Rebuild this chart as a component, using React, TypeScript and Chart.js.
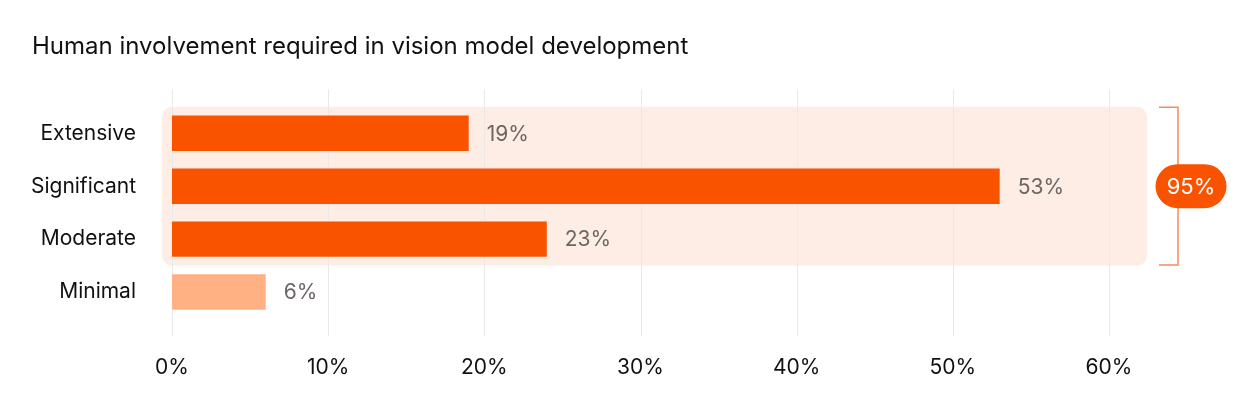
import React, { useEffect, useRef } from "react";
import { Chart, registerables } from "chart.js";

Chart.register(...registerables);

const titleText = "Human involvement required in vision model development";
const categories = ["Extensive", "Significant", "Moderate", "Minimal"];
const values = [19, 53, 24, 6];
const valueLabels = ["19%", "53%", "23%", "6%"];
const inGroup = [true, true, true, false];
const groupTotalLabel = "95%";
const xTickValues = [0, 10, 20, 30, 40, 50, 60];

const ORANGE = "#fa5300";
const PEACH = "#ffb183";
const HIGHLIGHT = "#fdede5";
const BRACKET = "#f58b5c";
const GRID = "#ebe9e8";
const FONT = "Inter, 'Noto Sans', sans-serif";

function roundRect(ctx: CanvasRenderingContext2D, x: number, y: number, w: number, h: number, r: number) {
  ctx.beginPath();
  ctx.moveTo(x + r, y);
  ctx.lineTo(x + w - r, y);
  ctx.arcTo(x + w, y, x + w, y + r, r);
  ctx.lineTo(x + w, y + h - r);
  ctx.arcTo(x + w, y + h, x + w - r, y + h, r);
  ctx.lineTo(x + r, y + h);
  ctx.arcTo(x, y + h, x, y + h - r, r);
  ctx.lineTo(x, y + r);
  ctx.arcTo(x, y, x + r, y, r);
  ctx.closePath();
}

function groupBounds(ys: any) {
  const band = ys.getPixelForValue(1) - ys.getPixelForValue(0);
  const first = inGroup.indexOf(true);
  const last = inGroup.lastIndexOf(true);
  return {
    top: ys.getPixelForValue(first) - band / 2,
    bottom: ys.getPixelForValue(last) + band / 2,
  };
}

const decorPlugin = {
  id: "decor",
  beforeDatasetsDraw(chart: any) {
    const { ctx, scales } = chart;
    const xs = scales.x;
    const ys = scales.y;
    const { top, bottom } = groupBounds(ys);
    const left = xs.left - 10;
    const right = xs.right + 38;
    ctx.save();
    ctx.fillStyle = HIGHLIGHT;
    roundRect(ctx, left, top, right - left, bottom - top, 10);
    ctx.fill();
    ctx.strokeStyle = GRID;
    ctx.lineWidth = 1;
    const gTop = ys.top - 17.5;
    const gBottom = ys.bottom + 17.5;
    xTickValues.forEach((v) => {
      const px = Math.round(xs.getPixelForValue(v)) + 0.5;
      ctx.beginPath();
      ctx.moveTo(px, gTop);
      ctx.lineTo(px, gBottom);
      ctx.stroke();
    });
    ctx.restore();
  },
  afterDatasetsDraw(chart: any) {
    const { ctx, scales } = chart;
    const xs = scales.x;
    const ys = scales.y;
    ctx.save();
    ctx.font = `21px ${FONT}`;
    ctx.fillStyle = "#6b6663";
    ctx.textAlign = "left";
    ctx.textBaseline = "middle";
    values.forEach((v, i) => {
      const px = xs.getPixelForValue(v) + 18;
      const py = ys.getPixelForValue(i);
      ctx.fillText(valueLabels[i], px, py + 1);
    });
    const { top, bottom } = groupBounds(ys);
    const bx0 = xs.right + 50;
    const bx1 = xs.right + 69;
    ctx.strokeStyle = BRACKET;
    ctx.lineWidth = 1.5;
    ctx.beginPath();
    ctx.moveTo(bx0, top + 0.5);
    ctx.lineTo(bx1, top + 0.5);
    ctx.lineTo(bx1, bottom - 0.5);
    ctx.lineTo(bx0, bottom - 0.5);
    ctx.stroke();
    const cy = (top + bottom) / 2;
    const cx = xs.right + 82;
    const w = 71;
    const h = 44;
    ctx.fillStyle = ORANGE;
    roundRect(ctx, cx - w / 2, cy - h / 2, w, h, h / 2);
    ctx.fill();
    ctx.fillStyle = "#ffffff";
    ctx.font = `22px ${FONT}`;
    ctx.textAlign = "center";
    ctx.fillText(groupTotalLabel, cx, cy + 1);
    ctx.restore();
  },
};

export default function App() {
  const canvasRef = useRef<HTMLCanvasElement | null>(null);

  useEffect(() => {
    document.body.style.margin = "0";
    const canvas = canvasRef.current;
    if (!canvas) return;
    const chart = new Chart(canvas, {
      type: "bar",
      data: {
        labels: categories,
        datasets: [
          {
            data: values,
            backgroundColor: inGroup.map((g) => (g ? ORANGE : PEACH)),
            borderWidth: 0,
            categoryPercentage: 0.67,
            barPercentage: 1,
          },
        ],
      },
      options: {
        indexAxis: "y",
        responsive: false,
        animation: false,
        layout: { padding: { left: 32, right: 147, top: 0, bottom: 31 } },
        plugins: {
          legend: { display: false },
          tooltip: { enabled: false },
          title: {
            display: true,
            text: titleText,
            align: "start",
            color: "#111111",
            font: { family: FONT, size: 24, weight: "normal" },
            padding: { top: 32, bottom: 46 },
          },
        },
        scales: {
          x: {
            min: 0,
            max: 60,
            afterBuildTicks: (scale: any) => {
              scale.ticks = xTickValues.map((v) => ({ value: v }));
            },
            afterFit: (scale: any) => {
              scale.height = 61.5;
            },
            grid: { display: false, drawTicks: false },
            border: { display: false },
            ticks: {
              color: "#111111",
              font: { family: FONT, size: 21 },
              padding: 37,
              maxRotation: 0,
              callback: (v: any) => `${v}%`,
            },
          },
          y: {
            afterFit: (scale: any) => {
              scale.width = 140;
            },
            grid: { display: false, drawTicks: false },
            border: { display: false },
            ticks: {
              color: "#111111",
              font: { family: FONT, size: 21 },
              padding: 36,
            },
          },
        },
      },
      plugins: [decorPlugin],
    });
    return () => chart.destroy();
  }, []);

  return (
    <div style={{ width: 1256, height: 411, background: "#ffffff" }}>
      <canvas ref={canvasRef} width={1256} height={411} />
    </div>
  );
}
